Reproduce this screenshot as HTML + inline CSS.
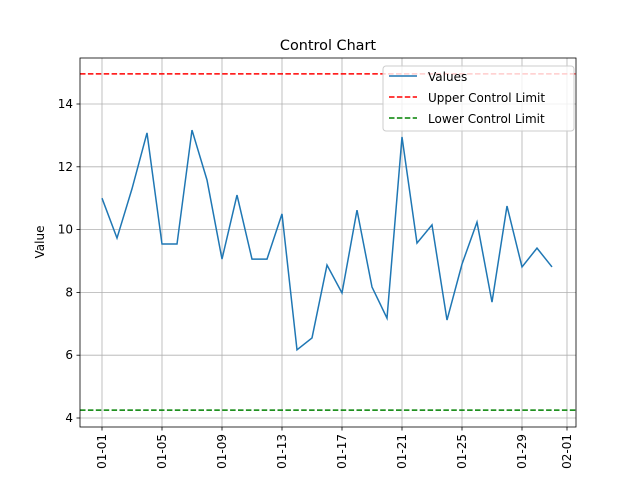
<!DOCTYPE html>
<html><head><meta charset="utf-8"><style>
body{margin:0;background:#fff;font-family:"Liberation Sans","DejaVu Sans",sans-serif}
svg text{font-family:"DejaVu Sans","Liberation Sans",sans-serif}
</style></head><body>
<svg id="chart" width="640" height="480">
<rect width="640" height="480" fill="#fff"/>
<text x="328" y="50" text-anchor="middle" font-size="14.4">Control Chart</text>
<g id="grid"></g><g id="plot"></g><g id="axes"></g>
<rect x="80" y="58" width="496" height="369" fill="none" stroke="#000" stroke-width="0.8"/>
<text transform="translate(44,242) rotate(-90)" text-anchor="middle" font-size="12">Value</text>
<g>
<rect x="383" y="66" width="191" height="65" rx="3" fill="#fff" fill-opacity="0.8" stroke="#ccc"/>
<line x1="389" y1="76" x2="417" y2="76" stroke="#1f77b4" stroke-width="1.5"/>
<text x="428" y="81" font-size="12">Values</text>
<line x1="389" y1="97" x2="417" y2="97" stroke="red" stroke-width="1.5" stroke-dasharray="5.5,2.4"/>
<text x="428" y="102" font-size="12">Upper Control Limit</text>
<line x1="389" y1="118" x2="417" y2="118" stroke="green" stroke-width="1.5" stroke-dasharray="5.5,2.4"/>
<text x="428" y="123" font-size="12">Lower Control Limit</text>
</g>
</svg>
<script>
const values=[11.0,9.73,11.3,13.08,9.54,9.54,13.17,11.58,9.06,11.1,9.06,9.06,10.5,6.17,6.55,8.87,7.98,10.62,8.17,7.18,12.95,9.57,10.15,7.12,8.9,10.24,7.69,10.75,8.81,9.41,8.81];
const upperLimit=[14.96];
const lowerLimit=[4.25];
const yTicks=[4,6,8,10,12,14];
const xTickDays=[0,4,8,12,16,20,24,28,31];
const xTickLabels=["01-01","01-05","01-09","01-13","01-17","01-21","01-25","01-29","02-01"];
const NS="http://www.w3.org/2000/svg";
const X=d=>102+d*15.0;
const Y=v=>418-(v-4)*31.4;
const grid=document.getElementById('grid'),plot=document.getElementById('plot'),axes=document.getElementById('axes');
function mk(tag,attrs,parent){const e=document.createElementNS(NS,tag);for(const k in attrs)e.setAttribute(k,attrs[k]);parent.appendChild(e);return e;}
yTicks.forEach(t=>{
 const g=mk('line',{x1:80,x2:576,y1:Y(t),y2:Y(t),stroke:'#b0b0b0','stroke-width':0.8},grid);
 
 
 mk('line',{x1:76.5,x2:80,y1:Y(t),y2:Y(t),stroke:'#000','stroke-width':0.8},axes);
 const tx=mk('text',{x:73,y:Y(t)+4,'text-anchor':'end','font-size':12},axes);
 tx.textContent=t;
 
 
});
xTickDays.forEach((d,i)=>{
 const g=mk('line',{x1:X(d),x2:X(d),y1:58,y2:427,stroke:'#b0b0b0','stroke-width':0.8},grid);
 
 
 mk('line',{x1:X(d),x2:X(d),y1:427,y2:430.5,stroke:'#000','stroke-width':0.8},axes);
 const tx=mk('text',{transform:`translate(${X(d)+4},434) rotate(-90)`,'text-anchor':'end','font-size':12},axes);
 tx.textContent=xTickLabels[i];
 
 
});
const u=mk('line',{x1:80,x2:576,y1:Y(upperLimit[0]),y2:Y(upperLimit[0]),stroke:'red','stroke-width':1.5,'stroke-dasharray':'5.5,2.4'},plot);


const l=mk('line',{x1:80,x2:576,y1:Y(lowerLimit[0]),y2:Y(lowerLimit[0]),stroke:'green','stroke-width':1.5,'stroke-dasharray':'5.5,2.4'},plot);


const p=mk('polyline',{points:values.map((v,i)=>X(i)+','+Y(v)).join(' '),fill:'none',stroke:'#1f77b4','stroke-width':1.5},plot);


</script>
</body></html>
